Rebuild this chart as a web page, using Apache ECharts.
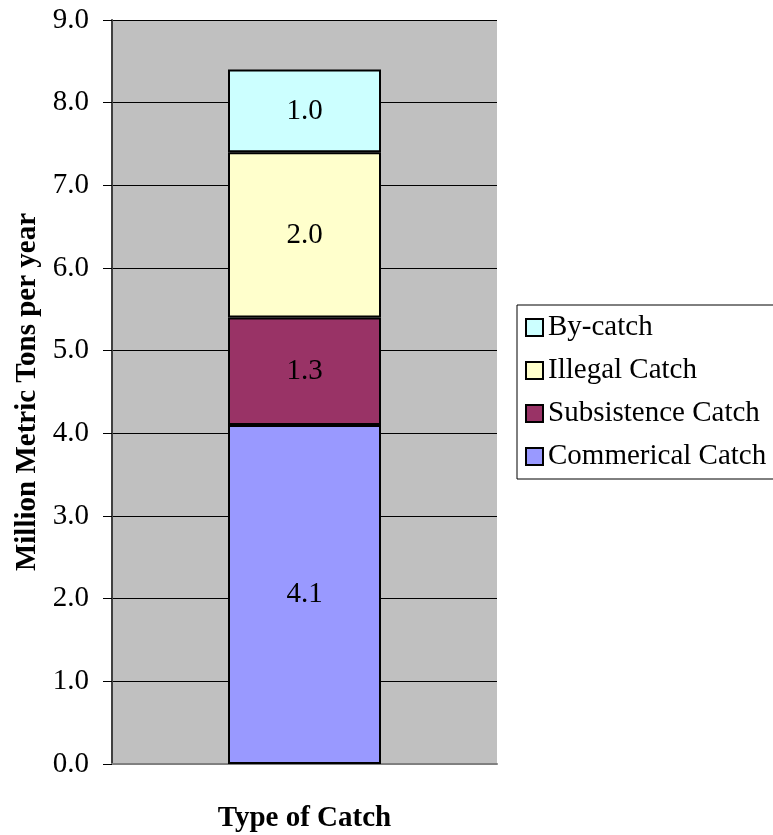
<!DOCTYPE html>
<html>
<head>
<meta charset="utf-8">
<script src="https://cdn.jsdelivr.net/npm/echarts@6/dist/echarts.min.js"></script>
<style>
  html, body { margin: 0; padding: 0; background: #fff; }
  #chart { width: 773px; height: 835px; }
</style>
</head>
<body>
<div id="chart"></div>
<script>
// data
var categories = [''];
var commercialCatch = [4.1];
var subsistenceCatch = [1.3];
var illegalCatch = [2.0];
var byCatch = [1.0];
var legendOrder = ['By-catch', 'Illegal Catch', 'Subsistence Catch', 'Commerical Catch'];

var FONT = '"Liberation Serif", "Times New Roman", serif';

function makeSeries(name, data, color) {
    return {
        name: name,
        type: 'bar',
        stack: 'catch',
        barWidth: 153,
        data: data,
        itemStyle: { color: color, borderColor: '#000', borderWidth: 2 },
        label: {
            show: true,
            position: 'inside',
            color: '#000',
            fontFamily: FONT,
            fontSize: 29,
            formatter: function (p) { return p.value.toFixed(1); }
        }
    };
}

var myChart = echarts.init(document.getElementById('chart'));

var option = {
    backgroundColor: '#fff',
    animation: false,
    grid: {
        left: 112, right: 276, top: 20, bottom: 71,
        outerBoundsMode: 'none',
        containLabel: false,
        show: true, backgroundColor: '#c0c0c0', borderWidth: 0
    },
    legend: {
        orient: 'vertical',
        left: 517, top: 305,
        data: legendOrder,
        backgroundColor: '#fff',
        borderColor: '#000',
        borderWidth: 1,
        padding: [7, 40, 7, 8],
        itemWidth: 17, itemHeight: 17,
        itemGap: 12,
        itemTextGap: 9,
        icon: 'rect',
        itemStyle: { borderColor: '#000', borderWidth: 2 },
        textStyle: { fontFamily: FONT, fontSize: 29, color: '#000', lineHeight: 31 }
    },
    xAxis: {
        type: 'category',
        data: categories,
        name: 'Type of Catch',
        nameLocation: 'middle',
        nameGap: 40,
        nameTextStyle: { fontFamily: FONT, fontSize: 29, fontWeight: 'bold', color: '#000' },
        axisLine: { lineStyle: { color: '#808080', width: 2 } },
        axisTick: { show: false },
        axisLabel: { show: false }
    },
    yAxis: {
        type: 'value',
        min: 0, max: 9, interval: 1,
        name: 'Million Metric Tons per year',
        nameLocation: 'middle',
        nameGap: 70,
        nameTextStyle: { fontFamily: FONT, fontSize: 29, fontWeight: 'bold', color: '#000' },
        axisLine: { show: true, lineStyle: { color: '#404040', width: 2 } },
        axisTick: { show: true, length: 9, lineStyle: { color: '#000' } },
        axisLabel: {
            margin: 23,
            fontFamily: FONT, fontSize: 29, color: '#000',
            formatter: function (v) { return v.toFixed(1); }
        },
        splitLine: { show: true, lineStyle: { color: '#000', width: 1 } }
    },
    series: [
        makeSeries('Commerical Catch', commercialCatch, '#9999ff'),
        makeSeries('Subsistence Catch', subsistenceCatch, '#993366'),
        makeSeries('Illegal Catch', illegalCatch, '#ffffcc'),
        makeSeries('By-catch', byCatch, '#ccffff')
    ]
};
myChart.setOption(option);
</script>
</body>
</html>
